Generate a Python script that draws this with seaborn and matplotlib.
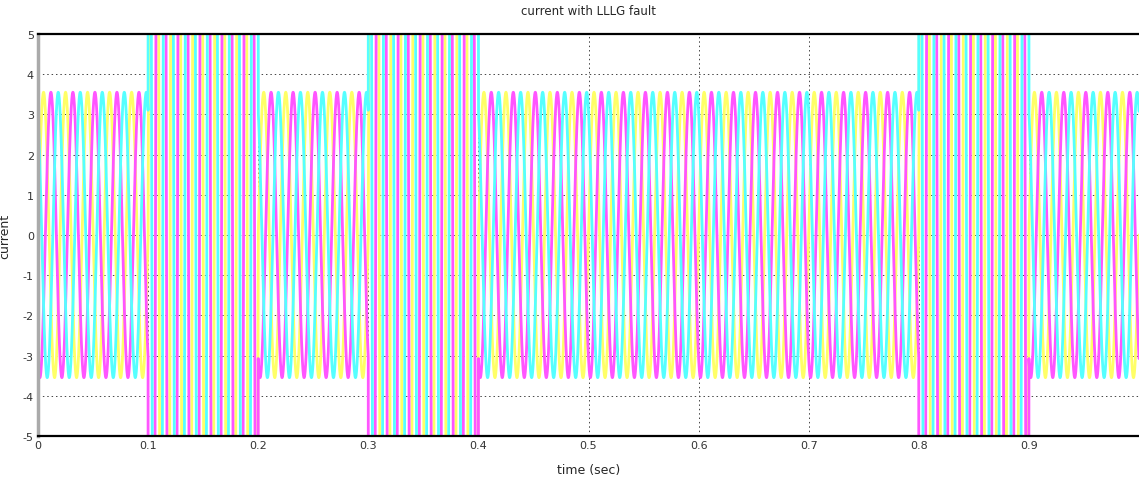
import numpy as np
import pandas as pd
import matplotlib
matplotlib.use("Agg")
import matplotlib.pyplot as plt
import seaborn as sns

# ---- values ----
phases = ["Ia", "Ib", "Ic"]
phase_colors = ["#ffff66", "#ff55ff", "#55ffff"]
phase_shift_deg = [0, -120, 120]
freq_hz = 50
normal_peak = 3.55          # steady-state peak current
fault_peak = 40.0           # fault current peak (far beyond the ±5 view)
fault_intervals = [(0.1, 0.2), (0.3, 0.4), (0.8, 0.9)]
t_end = 1.0
xticks = [0, 0.1, 0.2, 0.3, 0.4, 0.5, 0.6, 0.7, 0.8, 0.9]
xtick_labels = ["0", "0.1", "0.2", "0.3", "0.4", "0.5", "0.6", "0.7", "0.8", "0.9"]
yticks = [-5, -4, -3, -2, -1, 0, 1, 2, 3, 4, 5]

# ---- build the waveform ----
t = np.linspace(0, t_end, 20001)
amp = np.full_like(t, normal_peak)
for a, b in fault_intervals:
    amp[(t >= a) & (t < b)] = fault_peak
frames = []
for name, sh in zip(phases, phase_shift_deg):
    y = amp * np.sin(2 * np.pi * freq_hz * t + np.deg2rad(sh))
    frames.append(pd.DataFrame({"time": t, "current": y, "phase": name}))
df = pd.concat(frames, ignore_index=True)

sns.set_theme(style="white")
plt.rcParams["font.family"] = ["Liberation Sans Narrow", "DejaVu Sans Condensed", "DejaVu Sans"]
plt.rcParams["axes.unicode_minus"] = False

fig = plt.figure(figsize=(11.39, 4.85), dpi=100)
ax = fig.add_axes([0.0334, 0.099, 0.9666, 0.829])

sns.lineplot(data=df, x="time", y="current", hue="phase",
             palette=dict(zip(phases, phase_colors)), estimator=None,
             linewidth=2.0, legend=False, ax=ax, sort=False)

ax.set_xlim(0, t_end)
ax.set_ylim(-5, 5)
ax.set_xticks(xticks)
ax.set_xticklabels(xtick_labels)
ax.set_yticks(yticks)
ax.grid(True, linestyle=(0, (1.5, 3)), color="#444444", linewidth=0.7)
ax.tick_params(direction="in", length=9, width=1.2, color="#333333",
               labelsize=8, labelcolor="#333333", pad=3, top=False, right=False)
for s in ["top", "bottom"]:
    ax.spines[s].set_linewidth(1.6)
    ax.spines[s].set_color("black")
ax.spines["left"].set_color("#aaaaaa")
ax.spines["left"].set_linewidth(2.5)
ax.spines["right"].set_visible(False)

ax.set_title("current with LLLG fault", fontsize=8.5, pad=14)
ax.set_xlabel("time (sec)", fontsize=9, labelpad=9)
ax.set_ylabel("current", fontsize=9)
ax.yaxis.set_label_coords(-0.024, 0.5)

fig.savefig("out.png", dpi=100)
